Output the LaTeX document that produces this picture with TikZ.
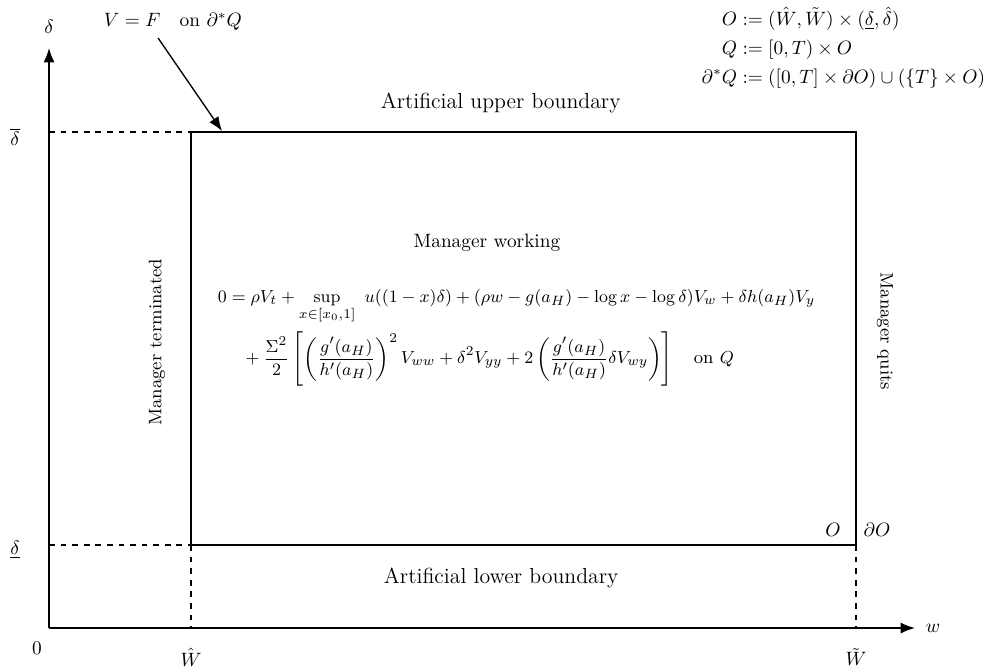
\documentclass[tikz,border=0pt]{standalone}
\usepackage{amsmath,amssymb}
\usetikzlibrary{arrows.meta,positioning}
\tikzset{
  axis/.style={line width=0.7pt, -{Latex[length=2.6mm,width=2mm]}},
  bound/.style={line width=0.7pt},
  guide/.style={line width=0.7pt, dashed},
  sidetext/.style={font=\fontsize{9.4}{11.3}\selectfont},
  regiontext/.style={font=\fontsize{11.3}{13.6}\selectfont},
}

\begin{document}
\begin{tikzpicture}
\useasboundingbox (-0.892,-0.710) rectangle (17.29,11.43);
% axes
\coordinate (o) at (0,0);
\draw[axis] (o)--(15.76,0) node[right=2pt] (wlab) {$w$};
\draw[axis] (o)--(0,10.556) node[above=4pt] (dlab) {$\delta$};
\node (zero) at (-0.218,-0.364) {$0$};
% corners of O
\coordinate (sw) at (2.584,1.511);
\coordinate (se) at (14.687,1.511);
\coordinate (nw) at (2.584,9.027);
\coordinate (ne) at (14.687,9.027);
\draw[bound] (sw)--(nw)--(ne)--(se)--cycle;
\draw[guide] (0,9.027)--(nw);
\draw[guide] (0,1.511)--(sw);
\draw[guide] (sw)--(sw|-o);
\draw[guide] (se)--(se|-o);
% tick labels
\node (dbar) at (-0.619,8.936) {$\overline{\delta}$};
\node (dund) at (-0.619,1.42) {$\underline{\delta}$};
\node (what) at (2.584,-0.528) {$\hat{W}$};
\node (wtil) at (14.687,-0.528) {$\tilde{W}$};
\node (olab) at (14.27,1.78) {$O$};
\node (dolab) at (15.07,1.78) {$\partial O$};
% boundary texts
\node[regiontext] (upper) at (8.22,9.555) {Artificial upper boundary};
\node[regiontext] (lower) at (8.23,0.91) {Artificial lower boundary};
\node[sidetext, rotate=90] (term) at (1.966,5.2) {Manager terminated};
\node[sidetext, rotate=-90] (quits) at (15.215,5.4) {Manager quits};
\node (work) at (7.97,7.007) {Manager working};
% HJB equation
\node[sidetext, anchor=west] (hjb) at (2.95,5.30) {$\begin{aligned}
0 = {}& \rho V_t + \sup_{x\in[x_0,1]}\ u((1-x)\delta) + (\rho w - g(a_H) - \log x - \log\delta)V_w + \delta h(a_H)V_y\\
&\hspace{-0.5em}+\frac{\Sigma^2}{2}\left[\left(\frac{g'(a_H)}{h'(a_H)}\right)^2 V_{ww} + \delta^2 V_{yy} + 2\left(\frac{g'(a_H)}{h'(a_H)}\delta V_{wy}\right)\right] \quad \text{on } Q
\end{aligned}$};
% terminal condition
\node (term-cond) at (2.256,11.03) {$V = F \quad \text{on } \partial^* Q$};
\coordinate (hit) at (3.149,9.045);
\draw[line width=0.7pt, -{Latex[length=2.6mm,width=2mm]}] (1.984,10.74)--(hit);
% definitions
\node[anchor=north east] (defs) at (17.16,11.43) {$\begin{aligned}
O &:= (\hat{W},\tilde{W}) \times (\underline{\delta},\hat{\delta})\\
Q &:= [0,T) \times O\\
\partial^* Q &:= ([0,T]\times\partial O) \cup (\{T\}\times O)
\end{aligned}$};
\end{tikzpicture}
\end{document}
